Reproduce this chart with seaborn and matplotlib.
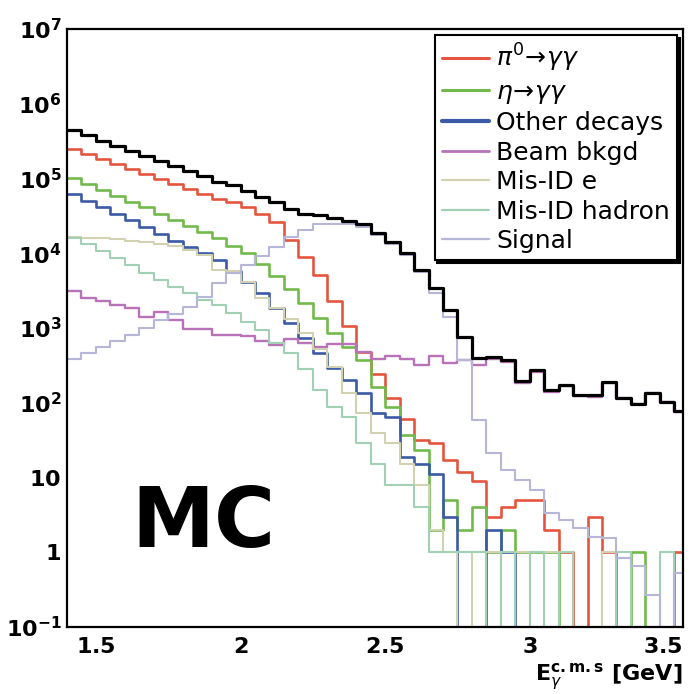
import numpy as np
import pandas as pd
import matplotlib
matplotlib.use("Agg")
import matplotlib.pyplot as plt
import seaborn as sns
from matplotlib.lines import Line2D
from matplotlib.ticker import FuncFormatter, LogLocator, MultipleLocator

# Photon energy bins in the c.m. frame [GeV], 0.05 GeV wide
bin_edges = [round(1.40 + 0.05 * i, 2) for i in range(44)]

# Expected photon counts per bin for each source
pi0_decays = [245000, 211000, 181000, 156000, 134000, 115000, 99000, 85000, 73000, 62500,
              54000, 49000, 42000, 34000, 26300, 15000, 8900, 5100, 2300, 1050,
              480, 240, 115, 60, 32, 29, 17, 12, 9, 3,
              4, 5, 5, 2, 1, 0, 3, 1, 0, 0,
              0, 0, 1]
eta_decays = [102000, 85000, 71000, 59000, 49000, 41000, 34000, 28000, 23400, 19500,
              16200, 12600, 10000, 7100, 5000, 3300, 2140, 1350, 850, 560,
              370, 160, 89, 37, 23, 2, 5, 2, 4, 1,
              2, 1, 1, 1, 0, 0, 0, 0, 0, 1,
              0, 0, 0]
other_decays = [62000, 50000, 41000, 33000, 27500, 22400, 18200, 14800, 12300, 10000,
                8100, 5800, 4100, 2900, 1860, 1170, 740, 460, 295, 200,
                135, 74, 65, 19, 15, 11, 3, 0, 0, 2,
                1, 0, 0, 0, 0, 0, 0, 0, 0, 0,
                0, 0, 0]
beam_bkgd = [3100, 2500, 2300, 2000, 1860, 1400, 1660, 1260, 980, 980,
             800, 810, 790, 680, 590, 710, 630, 560, 620, 620,
             480, 390, 420, 390, 316, 420, 340, 370, 324, 380,
             354, 181, 259, 139, 169, 123, 121, 184, 114, 96,
             135, 102, 75]
misid_e = [16600, 16200, 15800, 15500, 14800, 14100, 13500, 12600, 11200, 9500,
           6000, 5800, 4100, 2500, 1860, 1300, 850, 520, 300, 135,
           72, 39, 29, 15, 8, 2, 1, 0, 1, 1,
           0, 1, 0, 1, 0, 0, 0, 1, 0, 0,
           0, 0, 0]
misid_hadron = [15800, 13200, 10700, 8700, 6900, 5500, 4400, 3500, 2900, 2400,
                2000, 1600, 1200, 930, 630, 460, 280, 150, 89, 65,
                29, 15, 8, 8, 4, 1, 1, 1, 1, 0,
                1, 0, 1, 0, 1, 0, 0, 0, 1, 0,
                0, 1, 0]
signal = [390, 460, 560, 660, 800, 1000, 1260, 1550, 1900, 2600,
          4000, 5400, 6900, 9300, 12300, 16600, 20400, 24500, 25000, 24500,
          22700, 17700, 13500, 9500, 5600, 2980, 1400, 370, 59, 21,
          12.6, 9.3, 6.8, 3.3, 2.7, 2.1, 1.6, 1.55, 0.83, 0.65,
          0.27, 0, 0.52]

x_ticks = [1.5, 2.0, 2.5, 3.0, 3.5]
legend_labels = [r"$\pi^{0}\!\rightarrow\!\gamma\gamma$", r"$\eta\!\rightarrow\!\gamma\gamma$",
                 "Other decays", "Beam bkgd", "Mis-ID e", "Mis-ID hadron", "Signal"]

sns.set_theme(style="white")
plt.rcParams.update({
    "font.family": ["DejaVu Sans"],
    "mathtext.fontset": "dejavusans",
    "axes.edgecolor": "black",
    "axes.linewidth": 1.6,
    "text.color": "black",
    "axes.labelcolor": "black",
    "xtick.color": "black",
    "ytick.color": "black",
})

colors = {
    "pi0": "#e4553f",
    "eta": "#72b94c",
    "other": "#3a5aa6",
    "beam": "#b872b8",
    "e": "#d2d2b2",
    "hadron": "#a2d0b4",
    "signal": "#b6b6d8",
}

fig = plt.figure(figsize=(6.9, 6.94), dpi=100)
ax = fig.add_axes([67 / 690, 1 - 627 / 694, 616 / 690, 598 / 694])
ax.set_yscale("log")

edges = np.asarray(bin_edges)
centers = 0.5 * (edges[:-1] + edges[1:])
components = {
    "pi0": pi0_decays, "eta": eta_decays, "other": other_decays, "beam": beam_bkgd,
    "e": misid_e, "hadron": misid_hadron, "signal": signal,
}
frame = pd.DataFrame({"E": centers})
for key, vals in components.items():
    frame[key] = np.asarray(vals, dtype=float)
frame["total"] = frame[list(components)].sum(axis=1)

# components in legend order, the total drawn last on top
layers = [
    ("pi0", colors["pi0"], 1.9),
    ("eta", colors["eta"], 1.9),
    ("other", colors["other"], 1.9),
    ("beam", colors["beam"], 1.7),
    ("e", colors["e"], 1.5),
    ("hadron", colors["hadron"], 1.5),
    ("signal", colors["signal"], 1.5),
    ("total", "black", 2.3),
]
for key, color, lw in layers:
    sns.histplot(data=frame, x="E", weights=key, bins=bin_edges, element="step",
                 fill=False, color=color, linewidth=lw, ax=ax)

ax.set_xlim(1.4, 3.53)
ax.set_ylim(0.1, 1e7)
ax.set_ylabel("")

ax.set_xticks(x_ticks)
ax.xaxis.set_minor_locator(MultipleLocator(0.1))
ax.yaxis.set_major_locator(LogLocator(base=10, numticks=20))
ax.yaxis.set_minor_locator(LogLocator(base=10, subs=np.arange(2, 10), numticks=200))


def ylab(v, pos):
    n = int(round(np.log10(v)))
    if n == 0:
        return r"$\mathbf{1}$"
    if n == 1:
        return r"$\mathbf{10}$"
    return r"$\mathbf{10}^{\mathbf{%d}}$" % n


def xlab(v, pos):
    # the rightmost label sits flush with the frame edge instead of centred
    if abs(v - x_ticks[-1]) < 1e-9:
        return ""
    return r"$\mathbf{%g}$" % v


ax.yaxis.set_major_formatter(FuncFormatter(ylab))
ax.xaxis.set_major_formatter(FuncFormatter(xlab))

ax.tick_params(axis="both", which="both", direction="in", top=False, right=False)
ax.tick_params(axis="y", which="major", length=20, width=1.5, pad=4, labelsize=16)
ax.tick_params(axis="y", which="minor", length=12, width=1.2)
ax.tick_params(axis="x", which="major", length=18, width=1.5, pad=7, labelsize=16)
ax.tick_params(axis="x", which="minor", length=8, width=1.2)

ax.text(1.0, -0.0165, r"$\mathbf{%g}$" % x_ticks[-1], transform=ax.transAxes,
        ha="right", va="top", fontsize=16)

ax.set_xlabel(r"$\mathbf{E}_{\gamma}^{\mathbf{c.m.s}}$ [GeV]", loc="right",
              fontsize=16, fontweight="bold", labelpad=4)

ax.text(0.221, 0.133, "MC", transform=ax.transAxes, ha="center", va="baseline",
        fontsize=60, fontweight="bold", color="black", family=["DejaVu Sans"])

handles = [Line2D([], [], color=c, lw=w) for c, w in [
    (colors["pi0"], 2.2), (colors["eta"], 2.2), (colors["other"], 3.0),
    (colors["beam"], 2.0), (colors["e"], 1.6), (colors["hadron"], 1.6),
    (colors["signal"], 1.6)]]
leg = ax.legend(handles, legend_labels, loc="upper right", bbox_to_anchor=(0.99, 0.99),
                frameon=True, fancybox=False, shadow={"color": "black", "alpha": 1.0},
                edgecolor="black", framealpha=1.0, fontsize=18, handlelength=1.9,
                handletextpad=0.28, labelspacing=0.22, borderpad=0.28, borderaxespad=0)
leg.get_frame().set_linewidth(1.5)

fig.savefig("out.png", dpi=100)
